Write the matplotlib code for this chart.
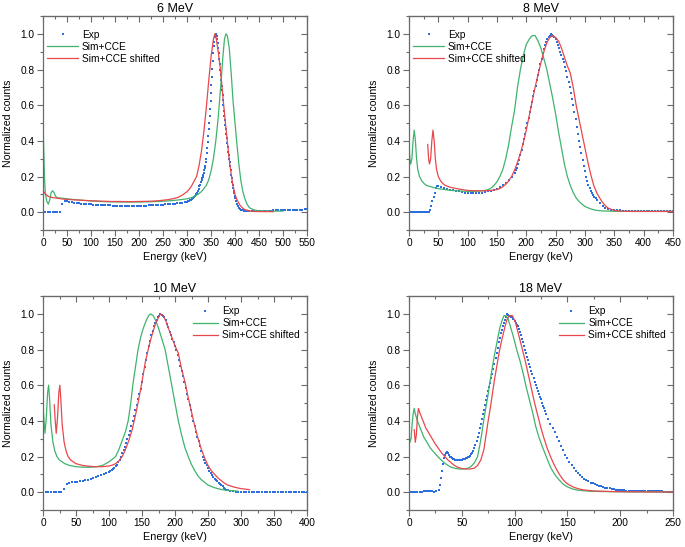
import numpy as np
import matplotlib.pyplot as plt
from matplotlib.ticker import MultipleLocator

plt.rcParams['font.family'] = 'Liberation Sans'

BLUE = '#2b6fdf'
GREEN = '#3fb36c'
RED = '#e8474c'
GREY = '#6a6a6a'

# ---------------- 6 MeV ----------------
exp6_e = np.concatenate([np.arange(0, 301, 5), np.arange(302, 329, 2), np.arange(330, 401, 1),
                         np.arange(402, 421, 2), np.arange(425, 551, 5)])
exp6_c = [0, 0, 0, 0, 0, 0, 0, 0, 0.045, 0.063,
          0.06, 0.058, 0.056, 0.054, 0.052, 0.05, 0.048, 0.047, 0.046, 0.045,
          0.044, 0.043, 0.042, 0.041, 0.04, 0.039, 0.039, 0.038, 0.038, 0.037,
          0.037, 0.036, 0.036, 0.036, 0.035, 0.035, 0.035, 0.035, 0.035, 0.036,
          0.036, 0.036, 0.037, 0.037, 0.038, 0.038, 0.039, 0.04, 0.041, 0.042,
          0.043, 0.044, 0.045, 0.046, 0.047, 0.048, 0.05, 0.051, 0.053, 0.056,
          0.058,
          0.06, 0.063, 0.066, 0.07, 0.075, 0.08, 0.086, 0.093, 0.1, 0.11,
          0.12, 0.13, 0.145, 0.155,
          0.17, 0.18, 0.19, 0.2, 0.21, 0.222, 0.235, 0.247, 0.26, 0.28,
          0.3, 0.33, 0.36, 0.395, 0.43, 0.465, 0.5, 0.54, 0.58, 0.625,
          0.67, 0.715, 0.76, 0.805, 0.85, 0.89, 0.93, 0.955, 0.98, 0.99,
          1.0, 0.995, 0.99, 0.97, 0.95, 0.92, 0.89, 0.86, 0.83, 0.8,
          0.77, 0.74, 0.71, 0.683, 0.655, 0.628, 0.6, 0.57, 0.54, 0.515,
          0.49, 0.465, 0.44, 0.415, 0.39, 0.365, 0.34, 0.32, 0.3, 0.28,
          0.26, 0.235, 0.21, 0.19, 0.17, 0.152, 0.135, 0.12, 0.105, 0.092,
          0.08,
          0.06, 0.045, 0.033, 0.025, 0.019, 0.015, 0.012, 0.01, 0.009, 0.008,
          0.007, 0.006, 0.006, 0.006, 0.006, 0.007, 0.007, 0.008, 0.008, 0.009,
          0.009, 0.01, 0.01, 0.011, 0.011, 0.012, 0.012, 0.013, 0.013, 0.014,
          0.014, 0.015, 0.015, 0.015, 0.016, 0.016]
sim6_e = [0, 1, 3, 5, 8, 11, 14, 17, 20, 23, 26, 30, 35, 40, 50, 60, 80, 100, 120, 140,
          160, 180, 200, 220, 240, 260, 280, 300, 310, 320, 330, 340, 345, 350, 355, 360,
          365, 370, 375, 378, 381, 384, 388, 392, 396, 400, 404, 408, 412, 416, 420, 425,
          430, 440, 450, 460, 480, 500]
sim6_c = [0.55, 0.4, 0.2, 0.1, 0.06, 0.045, 0.07, 0.11, 0.12, 0.11, 0.09, 0.08, 0.08, 0.078,
          0.075, 0.072, 0.067, 0.063, 0.06, 0.058, 0.057, 0.057, 0.057, 0.058, 0.06, 0.063,
          0.068, 0.075, 0.082, 0.095, 0.115, 0.15, 0.18, 0.23, 0.3, 0.4, 0.53, 0.7, 0.88,
          0.97, 1.0, 0.99, 0.92, 0.78, 0.62, 0.5, 0.38, 0.27, 0.18, 0.12, 0.08, 0.045, 0.025,
          0.012, 0.008, 0.007, 0.006, 0.006]
shf6_e = [0, 3, 6, 10, 15, 20, 30, 40, 50, 60, 80, 100, 120, 140, 160, 180, 200, 220, 240,
          260, 270, 280, 290, 300, 305, 310, 315, 320, 325, 330, 335, 340, 345, 350, 355, 358,
          360, 365, 370, 375, 380, 385, 389, 395, 400, 404, 410, 415, 420, 430, 440, 460, 480]
shf6_c = [0.12, 0.11, 0.1, 0.09, 0.085, 0.082, 0.078, 0.074, 0.072, 0.07, 0.067, 0.064,
          0.062, 0.06, 0.06, 0.059, 0.06, 0.061, 0.064, 0.07, 0.075, 0.082, 0.095, 0.115,
          0.13, 0.15, 0.175, 0.2, 0.26, 0.34, 0.45, 0.58, 0.73, 0.87, 0.97, 1.0, 0.99, 0.9,
          0.79, 0.64, 0.5, 0.37, 0.27, 0.16, 0.1, 0.07, 0.04, 0.025, 0.015, 0.007, 0.004,
          0.003, 0.003]

# ---------------- 8 MeV ----------------
exp8_e = np.concatenate([np.arange(0, 51, 2), np.arange(55, 181, 5), np.arange(182, 321, 2),
                         np.arange(325, 451, 5)])
exp8_c = [0, 0, 0, 0, 0, 0, 0, 0, 0, 0, 0, 0, 0, 0, 0, 0, 0, 0,
          0.01, 0.035, 0.06, 0.085, 0.11, 0.135, 0.148, 0.145,
          0.14, 0.135, 0.13, 0.125, 0.122, 0.12, 0.117, 0.113, 0.11, 0.107,
          0.105, 0.105, 0.106, 0.108, 0.11, 0.113, 0.117, 0.121, 0.126, 0.132,
          0.14, 0.15, 0.163, 0.178, 0.195, 0.22,
          0.235, 0.25, 0.27, 0.29, 0.32, 0.35, 0.38, 0.41, 0.44, 0.47,
          0.5, 0.53, 0.56, 0.59, 0.62, 0.65, 0.68, 0.71, 0.74, 0.77,
          0.8, 0.83, 0.86, 0.89, 0.915, 0.935, 0.955, 0.97, 0.98, 0.99,
          1.0, 0.995, 0.99, 0.98, 0.97, 0.955, 0.94, 0.92, 0.9, 0.88,
          0.86, 0.84, 0.815, 0.79, 0.76, 0.73, 0.7, 0.67, 0.635, 0.6,
          0.56, 0.52, 0.48, 0.44, 0.4, 0.365, 0.33, 0.295, 0.26, 0.23,
          0.2, 0.175, 0.155, 0.135, 0.12, 0.105, 0.095, 0.085, 0.077, 0.07,
          0.05, 0.035, 0.025, 0.018, 0.014, 0.012, 0.01, 0.01, 0.009, 0.009,
          0.008, 0.008, 0.008, 0.008, 0.008, 0.008, 0.008, 0.008, 0.008, 0.008,
          0.008, 0.008, 0.008, 0.008, 0.008, 0.008]
sim8_e = [0, 1.5, 3, 5, 7, 9, 11, 13, 15, 18, 22, 26, 30, 40, 50, 60, 70, 80, 90, 100, 110,
          120, 130, 135, 140, 145, 150, 155, 160, 165, 170, 175, 180, 185, 190, 195, 200, 205,
          210, 215, 220, 225, 230, 235, 240, 245, 250, 255, 260, 265, 270, 275, 280, 285, 290,
          295, 300, 310, 320, 330, 350, 400, 450]
sim8_c = [0.38, 0.3, 0.27, 0.3, 0.4, 0.46, 0.4, 0.3, 0.24, 0.2, 0.175, 0.16, 0.15, 0.14,
          0.132, 0.127, 0.123, 0.12, 0.118, 0.117, 0.117, 0.118, 0.122, 0.127, 0.135, 0.15,
          0.17, 0.2, 0.24, 0.3, 0.38, 0.48, 0.57, 0.7, 0.8, 0.88, 0.94, 0.97, 0.99, 0.99,
          0.96, 0.92, 0.86, 0.8, 0.72, 0.64, 0.55, 0.45, 0.36, 0.27, 0.2, 0.15, 0.11, 0.08,
          0.06, 0.045, 0.032, 0.018, 0.01, 0.007, 0.005, 0.005, 0.005]
shf8_e = [32, 33.5, 35, 37, 39, 41, 43, 45, 47, 50, 54, 58, 62, 70, 80, 90, 100, 110, 120,
          130, 140, 150, 155, 160, 165, 170, 175, 180, 185, 190, 195, 200, 205, 210, 215, 220,
          225, 230, 235, 240, 245, 250, 255, 260, 265, 270, 275, 280, 285, 290, 295, 300, 305,
          310, 315, 320, 325, 330, 335, 340, 350, 360, 380, 450]
shf8_c = [0.38, 0.3, 0.27, 0.3, 0.4, 0.46, 0.4, 0.3, 0.24, 0.2, 0.175, 0.16, 0.15, 0.14,
          0.133, 0.127, 0.122, 0.12, 0.12, 0.12, 0.122, 0.127, 0.133, 0.143, 0.157, 0.175,
          0.2, 0.235, 0.28, 0.33, 0.39, 0.46, 0.54, 0.62, 0.7, 0.77, 0.84, 0.9, 0.95, 0.98,
          0.99, 0.98, 0.96, 0.92, 0.87, 0.82, 0.78, 0.7, 0.6, 0.52, 0.44, 0.36, 0.28, 0.21,
          0.15, 0.11, 0.08, 0.055, 0.035, 0.022, 0.01, 0.006, 0.004, 0.004]

# ---------------- 10 MeV ----------------
exp10_e = np.concatenate([np.arange(0, 101, 4), np.arange(102, 281, 2), np.arange(284, 401, 4)])
exp10_c = [0, 0, 0, 0, 0, 0, 0, 0,
           0.02, 0.045, 0.052, 0.055, 0.057, 0.059, 0.062, 0.065, 0.068, 0.071,
           0.075, 0.079, 0.084, 0.089, 0.095, 0.101, 0.108, 0.116,
           0.12, 0.125, 0.13, 0.138, 0.146, 0.155, 0.167, 0.182, 0.2, 0.218,
           0.236, 0.255, 0.275, 0.297, 0.32, 0.345, 0.372, 0.4, 0.43, 0.46,
           0.49, 0.52, 0.55, 0.58, 0.62, 0.66, 0.7, 0.74, 0.78, 0.82,
           0.85, 0.88, 0.905, 0.93, 0.95, 0.965, 0.98, 0.99, 1.0, 0.995,
           0.99, 0.98, 0.965, 0.945, 0.925, 0.9, 0.88, 0.86, 0.84, 0.82,
           0.8, 0.77, 0.74, 0.71, 0.68, 0.65, 0.62, 0.585, 0.55, 0.52,
           0.49, 0.46, 0.43, 0.4, 0.37, 0.34, 0.31, 0.285, 0.26, 0.23,
           0.2, 0.18, 0.165, 0.15, 0.135, 0.12, 0.107, 0.095, 0.085, 0.076,
           0.067, 0.06, 0.054, 0.048, 0.04, 0.032, 0.025, 0.019, 0.014, 0.01,
           0.006, 0.004, 0.003, 0.002,
           0.001, 0.001, 0.001, 0.001, 0.001, 0.001, 0.001, 0.001, 0.001, 0.001,
           0.001, 0.001, 0.001, 0.001, 0.001, 0.001, 0.001, 0.001, 0.001, 0.001,
           0.001, 0.001, 0.001, 0.001, 0.001, 0.001]
sim10_e = [0, 1.5, 3, 5, 7, 8.5, 10, 12, 15, 18, 21, 25, 29, 33, 40, 50, 60, 70, 80, 90, 95,
           100, 105, 110, 115, 120, 125, 129, 133, 136, 140, 144, 148, 152, 156, 160, 163, 167,
           171, 175, 180, 185, 190, 195, 200, 205, 210, 215, 220, 225, 230, 235, 240, 245, 250,
           260, 270, 280, 295]
sim10_c = [0.48, 0.4, 0.33, 0.42, 0.56, 0.6, 0.52, 0.38, 0.28, 0.23, 0.2, 0.18, 0.17, 0.16,
           0.15, 0.143, 0.14, 0.14, 0.142, 0.15, 0.16, 0.17, 0.185, 0.2, 0.24, 0.29, 0.34,
           0.4, 0.5, 0.6, 0.7, 0.8, 0.87, 0.92, 0.96, 0.99, 1.0, 0.99, 0.96, 0.92, 0.86, 0.8,
           0.7, 0.6, 0.5, 0.4, 0.32, 0.25, 0.2, 0.155, 0.12, 0.09, 0.07, 0.055, 0.04, 0.025,
           0.015, 0.01, 0.006]
shf10_e = [17, 18.5, 20, 22, 24, 25.5, 27, 29, 32, 35, 38, 42, 46, 50, 55, 60, 70, 80, 90,
           100, 105, 110, 115, 120, 125, 130, 135, 140, 145, 150, 155, 160, 165, 170, 175, 178,
           182, 186, 190, 195, 200, 205, 210, 215, 220, 225, 230, 235, 240, 245, 250, 255, 260,
           265, 270, 275, 280, 290, 300, 313]
shf10_c = [0.49, 0.4, 0.33, 0.42, 0.56, 0.6, 0.52, 0.38, 0.28, 0.23, 0.2, 0.18, 0.17, 0.16,
           0.155, 0.15, 0.145, 0.143, 0.143, 0.147, 0.152, 0.16, 0.175, 0.2, 0.24, 0.29, 0.35,
           0.43, 0.52, 0.62, 0.73, 0.81, 0.88, 0.94, 0.98, 1.0, 0.99, 0.96, 0.92, 0.87, 0.82,
           0.78, 0.69, 0.62, 0.53, 0.45, 0.37, 0.3, 0.24, 0.19, 0.15, 0.12, 0.1, 0.08, 0.065,
           0.05, 0.04, 0.028, 0.02, 0.014]

# ---------------- 18 MeV ----------------
exp18_e = np.concatenate([np.arange(0, 27, 2), np.arange(28, 131, 1), np.arange(132, 251, 2)])
exp18_c = [0, 0, 0, 0, 0, 0.002, 0.003, 0.004, 0.005, 0.006, 0.005, 0.004, 0.003, 0.004,
           0.01, 0.04, 0.08, 0.12, 0.16, 0.19, 0.21, 0.22, 0.225, 0.22,
           0.21, 0.2, 0.195, 0.19, 0.187, 0.185, 0.183, 0.181, 0.18, 0.18,
           0.18, 0.181, 0.182, 0.184, 0.186, 0.188, 0.19, 0.193, 0.196, 0.2,
           0.205, 0.212, 0.22, 0.232, 0.247, 0.265, 0.285, 0.308, 0.332, 0.358,
           0.385, 0.41, 0.437, 0.463, 0.49, 0.515, 0.54, 0.565, 0.59, 0.615,
           0.64, 0.665, 0.69, 0.72, 0.75, 0.78, 0.81, 0.84, 0.865, 0.89,
           0.91, 0.93, 0.95, 0.965, 0.98, 1.0, 0.995, 0.99, 0.99, 0.985,
           0.98, 0.97, 0.96, 0.95, 0.94, 0.93, 0.915, 0.9, 0.88, 0.86,
           0.84, 0.82, 0.8, 0.78, 0.76, 0.74, 0.72, 0.7, 0.68, 0.66,
           0.64, 0.62, 0.6, 0.585, 0.57, 0.55, 0.535, 0.52, 0.5, 0.485,
           0.47, 0.455, 0.44,
           0.41, 0.385, 0.36, 0.335, 0.31, 0.285, 0.26, 0.235, 0.21, 0.19,
           0.17, 0.152, 0.135, 0.12, 0.105, 0.095, 0.085, 0.076, 0.068, 0.06,
           0.054, 0.049, 0.044, 0.04, 0.036, 0.032, 0.029, 0.026, 0.023, 0.021,
           0.019, 0.017, 0.015, 0.013, 0.012, 0.011, 0.01, 0.009, 0.008, 0.008,
           0.007, 0.007, 0.006, 0.006, 0.006, 0.005, 0.005, 0.005, 0.005, 0.004,
           0.004, 0.004, 0.004, 0.004, 0.004, 0.003, 0.003, 0.003, 0.003, 0.003]
sim18_e = [0, 1, 2, 3, 4, 5, 6, 8, 10, 12, 14, 16, 18, 20, 22, 25, 28, 31, 34, 37, 40, 44,
           48, 52, 56, 59, 62, 65, 67, 69, 71, 73, 75, 77, 79, 81, 83, 86, 88, 90, 92, 94, 96,
           99, 102, 105, 108, 111, 114, 117, 120, 123, 126, 130, 134, 138, 142, 146, 150, 155,
           160, 170, 180, 200, 250]
sim18_c = [0.33, 0.28, 0.3, 0.38, 0.44, 0.47, 0.44, 0.4, 0.37, 0.34, 0.31, 0.29, 0.27, 0.25,
           0.235, 0.215, 0.195, 0.178, 0.162, 0.15, 0.14, 0.133, 0.13, 0.13, 0.135, 0.145,
           0.165, 0.2, 0.26, 0.33, 0.41, 0.48, 0.55, 0.63, 0.7, 0.77, 0.83, 0.92, 0.96, 0.99,
           0.99, 0.97, 0.93, 0.87, 0.8, 0.74, 0.67, 0.59, 0.52, 0.45, 0.37, 0.31, 0.26, 0.2,
           0.14, 0.1, 0.07, 0.045, 0.03, 0.018, 0.011, 0.006, 0.004, 0.002, 0.001]
shf18_e = [5, 6, 7, 8, 9, 10, 12, 14, 16, 18, 20, 22, 25, 28, 31, 34, 37, 40, 43, 46, 50, 54,
           58, 62, 65, 68, 71, 73, 75, 77, 79, 81, 83, 85, 87, 89, 91, 93, 95, 98, 101, 104,
           107, 110, 113, 116, 119, 122, 125, 128, 131, 134, 137, 140, 143, 146, 149, 152, 156,
           160, 165, 175, 190, 210, 250]
shf18_c = [0.35, 0.28, 0.32, 0.42, 0.47, 0.45, 0.42, 0.39, 0.36, 0.34, 0.32, 0.3, 0.27, 0.245,
           0.22, 0.2, 0.18, 0.165, 0.15, 0.14, 0.133, 0.13, 0.13, 0.135, 0.15, 0.18, 0.24,
           0.32, 0.4, 0.47, 0.55, 0.63, 0.7, 0.77, 0.83, 0.88, 0.93, 0.97, 0.99, 0.99, 0.95,
           0.88, 0.81, 0.74, 0.66, 0.58, 0.5, 0.43, 0.36, 0.3, 0.245, 0.2, 0.16, 0.125, 0.095,
           0.07, 0.052, 0.04, 0.028, 0.02, 0.013, 0.007, 0.004, 0.002, 0.001]

titles = ['6 MeV', '8 MeV', '10 MeV', '18 MeV']
xmax = [550, 450, 400, 250]
legend_loc = ['upper left', 'upper left', 'upper right', 'upper right']

fig = plt.figure(figsize=(6.85, 5.47), dpi=100)
boxes = [[0.0628, 0.5795, 0.3854, 0.3912], [0.597, 0.5795, 0.3854, 0.3912],
         [0.0628, 0.0676, 0.3854, 0.3912], [0.597, 0.0676, 0.3854, 0.3912]]
data = [(exp6_e, exp6_c, sim6_e, sim6_c, shf6_e, shf6_c),
        (exp8_e, exp8_c, sim8_e, sim8_c, shf8_e, shf8_c),
        (exp10_e, exp10_c, sim10_e, sim10_c, shf10_e, shf10_c),
        (exp18_e, exp18_c, sim18_e, sim18_c, shf18_e, shf18_c)]

for i in range(4):
    ax = fig.add_axes(boxes[i])
    ee, ec, se, sc, he, hc = data[i]
    ax.plot(ee, ec, 's', ms=2.15, color=BLUE, mew=0, label='Exp')
    ax.plot(se, sc, '-', lw=0.9, color=GREEN, label='Sim+CCE')
    ax.plot(he, hc, '-', lw=0.9, color=RED, label='Sim+CCE shifted')
    ax.set_xlim(0, xmax[i])
    ax.set_ylim(-0.1, 1.1)
    ax.xaxis.set_major_locator(MultipleLocator(50))
    ax.xaxis.set_minor_locator(MultipleLocator(25))
    ax.yaxis.set_major_locator(MultipleLocator(0.2))
    ax.yaxis.set_minor_locator(MultipleLocator(0.1))
    ax.yaxis.set_major_formatter(plt.FormatStrFormatter('%.1f'))
    ax.tick_params(which='both', direction='out', color=GREY, width=0.8, labelsize=7.3, pad=2)
    ax.tick_params(which='major', length=4)
    ax.tick_params(which='minor', length=2)
    for s in ax.spines.values():
        s.set_color(GREY)
        s.set_linewidth(0.9)
    # inward ticks on top and right
    top = ax.secondary_xaxis('top')
    top.xaxis.set_major_locator(MultipleLocator(50))
    top.xaxis.set_minor_locator(MultipleLocator(25))
    top.tick_params(which='both', direction='in', color=GREY, width=0.8, labeltop=False)
    top.tick_params(which='major', length=4)
    top.tick_params(which='minor', length=2)
    top.spines['top'].set_color(GREY)
    right = ax.secondary_yaxis('right')
    right.yaxis.set_major_locator(MultipleLocator(0.2))
    right.yaxis.set_minor_locator(MultipleLocator(0.1))
    right.tick_params(which='both', direction='in', color=GREY, width=0.8, labelright=False)
    right.tick_params(which='major', length=4)
    right.tick_params(which='minor', length=2)
    right.spines['right'].set_color(GREY)

    ax.set_title(titles[i], fontsize=9, pad=3)
    ax.set_xlabel('Energy (keV)', fontsize=7.8)
    ax.set_ylabel('Normalized counts', fontsize=7.6)
    ax.xaxis.set_label_coords(0.5, -0.105)
    ax.yaxis.set_label_coords(-0.115, 0.5)
    if legend_loc[i] == 'upper left':
        ax.legend(loc='upper left', bbox_to_anchor=(-0.01, 0.97), frameon=False, fontsize=7.3,
                  handlelength=3.0, handletextpad=0.4, labelspacing=0.2, borderpad=0.2,
                  numpoints=1)
    else:
        ax.legend(loc='upper right', bbox_to_anchor=(1.0, 0.985), frameon=False, fontsize=7.3,
                  handlelength=2.5, handletextpad=0.4, labelspacing=0.2, borderpad=0.2,
                  numpoints=1)

fig.savefig('out.png', dpi=100)
